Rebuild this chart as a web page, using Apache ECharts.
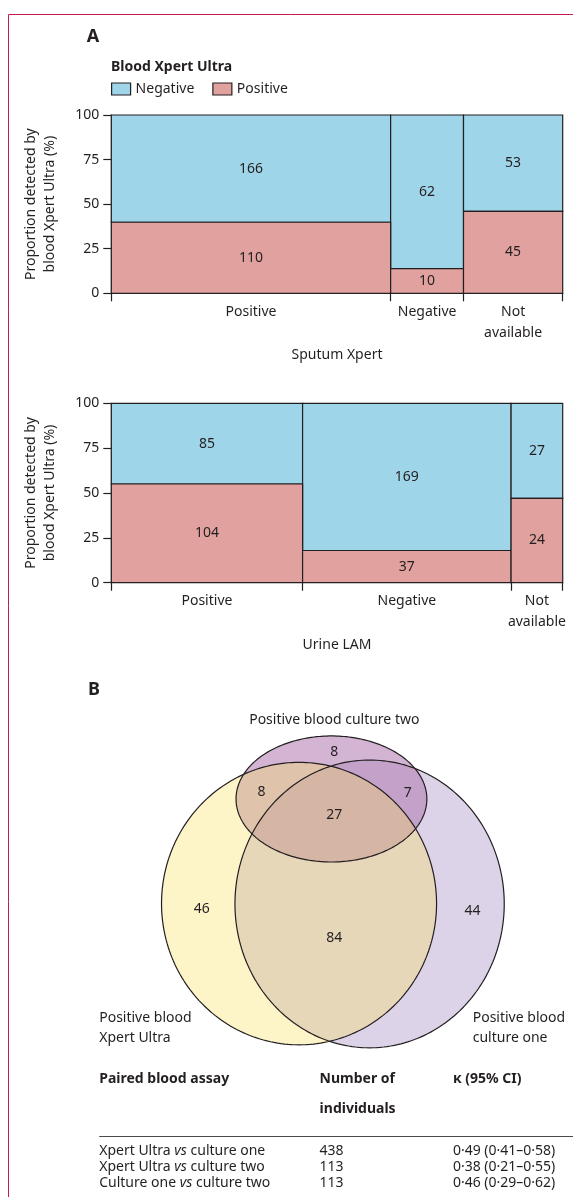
<!DOCTYPE html>
<html>
<head>
<meta charset="utf-8">
<script src="https://cdn.jsdelivr.net/npm/echarts@6/dist/echarts.min.js"></script>
<style>
html,body{margin:0;padding:0;background:#ffffff;}
#chart{width:573px;height:1197px;}
</style>
</head>
<body>
<div id="chart"></div>
<script>
// ---------------- DATA ----------------
const sputumCategories = ['Positive', 'Negative', 'Not available'];
const sputumPositive = [110, 10, 45];
const sputumNegative = [166, 62, 53];

const urineCategories = ['Positive', 'Negative', 'Not available'];
const urinePositive = [104, 37, 24];
const urineNegative = [85, 169, 27];

const legendNames = ['Negative', 'Positive'];

const vennSetNames = ['Positive blood\nXpert Ultra', 'Positive blood\nculture one', 'Positive blood culture two'];
const vennRegionNames = ['Culture two only', 'Xpert Ultra and culture two', 'Culture one and culture two', 'All three', 'Xpert Ultra only', 'Xpert Ultra and culture one', 'Culture one only'];
const vennRegionCounts = [8, 8, 7, 27, 46, 84, 44];

const tableHeaders = ['Paired blood assay', 'Number of\nindividuals', 'κ (95% CI)'];
const tableAssays = ['Xpert Ultra {i|vs} culture one', 'Xpert Ultra {i|vs} culture two', 'Culture one {i|vs} culture two'];
const tableN = [438, 113, 113];
const tableKappa = ['0·49 (0·41–0·58)', '0·38 (0·21–0·55)', '0·46 (0·29–0·62)'];

// ---------------- STYLE / LAYOUT ----------------
const FONT = '"Noto Sans", "DejaVu Sans", sans-serif';
const INK = '#231f20';
const BLUE = '#9fd5e8';
const PINK = '#e1a29f';

// Venn geometry in the venn grid's own units (x 0..100 left->right, y 0..100 top->bottom)
const vennShapes = [
  { set: 1, cx: 61.0, cy: 52.7, rx: 37.4, ry: 43.6, fill: '#dcd3e8' },
  { set: 2, cx: 50.4, cy: 20.9, rx: 26.5, ry: 19.1, fill: 'rgba(174,118,174,0.54)' },
  { set: 0, cx: 41.4, cy: 52.6, rx: 38.2, ry: 42.8, fill: 'rgba(249,223,93,0.34)' }
];
const vennLabelPos = [[51.2, 6.6], [31.0, 18.7], [71.6, 19.0], [51.2, 25.8], [14.4, 54.3], [51.2, 63.1], [89.6, 54.8]];

// ---------------- BUILD ----------------
function mosaic(cats, pos, neg) {
  const totals = cats.map((c, i) => pos[i] + neg[i]);
  const cum = [];
  let s = 0;
  totals.forEach(t => { cum.push(s); s += t; });
  const posRects = cats.map((c, i) => [cum[i], cum[i] + totals[i], 0, pos[i] / totals[i] * 100, pos[i]]);
  const negRects = cats.map((c, i) => [cum[i], cum[i] + totals[i], pos[i] / totals[i] * 100, 100, neg[i]]);
  const edges = cum.concat([s]);
  const mids = cats.map((c, i) => cum[i] + totals[i] / 2);
  return { total: s, posRects, negRects, edges, mids, cats };
}
const m1 = mosaic(sputumCategories, sputumPositive, sputumNegative);
const m2 = mosaic(urineCategories, urinePositive, urineNegative);

function catLabel(m, v) {
  let best = 0, bd = Infinity;
  m.mids.forEach((mv, i) => { const d = Math.abs(mv - v); if (d < bd) { bd = d; best = i; } });
  return m.cats[best].replace('Not available', 'Not\navailable');
}

function rectRenderer(color) {
  return function (params, api) {
    const p0 = api.coord([api.value(0), api.value(3)]);
    const p1 = api.coord([api.value(1), api.value(2)]);
    return {
      type: 'group',
      children: [
        { type: 'rect', shape: { x: p0[0], y: p0[1], width: p1[0] - p0[0], height: p1[1] - p0[1] },
          style: { fill: color, stroke: INK, lineWidth: 1.2 } },
        { type: 'text', x: (p0[0] + p1[0]) / 2, y: (p0[1] + p1[1]) / 2,
          style: { text: String(api.value(4)), fill: INK, fontSize: 14, fontFamily: FONT,
                   align: 'center', verticalAlign: 'middle', textAlign: 'center', textVerticalAlign: 'middle' } }
      ]
    };
  };
}

function xAxisFor(gi, m, name) {
  return {
    gridIndex: gi, type: 'value', min: 0, max: m.total,
    axisLine: { show: true, lineStyle: { color: INK, width: 1.2 } },
    axisTick: { show: true, customValues: m.edges, length: 8, lineStyle: { color: INK, width: 1.2 } },
    axisLabel: { customValues: m.mids, formatter: v => catLabel(m, v), fontSize: 14, fontFamily: FONT,
                 color: INK, margin: 8, lineHeight: 21 },
    splitLine: { show: false },
    name: name, nameLocation: 'middle', nameGap: 52,
    nameTextStyle: { fontSize: 14, fontFamily: FONT, color: INK, lineHeight: 20 }
  };
}
function yAxisFor(gi) {
  return {
    gridIndex: gi, type: 'value', min: 0, max: 100, interval: 25,
    axisLine: { show: true, lineStyle: { color: INK, width: 1.2 } },
    axisTick: { show: true, length: 8, lineStyle: { color: INK, width: 1.2 } },
    axisLabel: { fontSize: 14, fontFamily: FONT, color: INK, margin: 12 },
    splitLine: { show: false },
    name: 'Proportion detected by\nblood Xpert Ultra (%)', nameLocation: 'middle', nameRotate: 90, nameGap: 52.5,
    nameTextStyle: { fontSize: 14, fontFamily: FONT, color: INK, lineHeight: 18.5 }
  };
}

function ellipsePoints(c, rx, ry) {
  const pts = [];
  const N = 240;
  for (let k = 0; k < N; k++) {
    const a = k / N * Math.PI * 2;
    pts.push([c[0] + rx * Math.cos(a), c[1] + ry * Math.sin(a)]);
  }
  return pts;
}
function vennRenderer(mode) {
  return function (params, api) {
    const s = vennShapes[params.dataIndex];
    const c = api.coord([api.value(0), api.value(1)]);
    const e = api.coord([api.value(0) + api.value(2), api.value(1) + api.value(3)]);
    const pts = ellipsePoints(c, Math.abs(e[0] - c[0]), Math.abs(e[1] - c[1]));
    return {
      type: 'polygon', shape: { points: pts },
      style: mode === 'fill' ? { fill: s.fill, stroke: null } : { fill: null, stroke: INK, lineWidth: 1.2 }
    };
  };
}

const vennData = vennShapes.map(s => [s.cx, s.cy, s.rx, s.ry]);
const vennLabelData = vennRegionCounts.map((v, i) => [vennLabelPos[i][0], vennLabelPos[i][1], v]);

// ---------------- GRAPHIC TEXT ----------------
function txt(x, y, text, opts) {
  opts = opts || {};
  return {
    type: 'text', x: x, y: y, silent: true,
    style: Object.assign({
      text: text, fill: INK, fontSize: 14, fontFamily: FONT,
      align: 'left', verticalAlign: 'middle', textAlign: 'left', textVerticalAlign: 'middle'
    }, opts)
  };
}
const tableCols = [99.2, 319.6, 452.9];
const tableRowY = [1151, 1167, 1183];
const graphics = [
  { type: 'polyline', silent: true, shape: { points: [[573, 14.5], [8.5, 14.5], [8.5, 1197]] },
    style: { stroke: '#c8194d', lineWidth: 1, fill: null } },
  txt(86.7, 37, 'A', { fontSize: 18, fontWeight: 'bold' }),
  txt(111, 66.7, 'Blood Xpert Ultra', { fontSize: 14, fontWeight: 'bold' }),
  txt(88, 690, 'B', { fontSize: 18, fontWeight: 'bold' }),
  txt(334.3, 720, vennSetNames[2], { align: 'center', textAlign: 'center' }),
  txt(99.2, 1008.3, vennSetNames[0], { verticalAlign: 'top', textVerticalAlign: 'top', lineHeight: 20 }),
  txt(472.7, 1008.3, vennSetNames[1], { verticalAlign: 'top', textVerticalAlign: 'top', lineHeight: 20 }),
  txt(tableCols[0], 1079, tableHeaders[0], { fontSize: 14, fontWeight: 'bold' }),
  txt(tableCols[1], 1064, tableHeaders[1], { fontSize: 14, fontWeight: 'bold', verticalAlign: 'top', textVerticalAlign: 'top', lineHeight: 30 }),
  txt(tableCols[2], 1079, tableHeaders[2], { fontSize: 14, fontWeight: 'bold' }),
  { type: 'line', silent: true, shape: { x1: tableCols[0], y1: 1136.5, x2: 573, y2: 1136.5 },
    style: { stroke: '#4a4a4a', lineWidth: 1 } }
];
tableAssays.forEach((a, i) => {
  graphics.push(txt(tableCols[0], tableRowY[i], a, {
    rich: { i: { fontStyle: 'italic', fontSize: 14, fontFamily: FONT, fill: INK, color: INK } }
  }));
  graphics.push(txt(tableCols[1], tableRowY[i], String(tableN[i])));
  graphics.push(txt(tableCols[2], tableRowY[i], tableKappa[i]));
});

// ---------------- OPTION ----------------
const option = {
  backgroundColor: '#ffffff',
  animation: false,
  textStyle: { fontFamily: FONT, color: INK },
  legend: {
    data: legendNames, left: 111, top: 82, padding: 0,
    itemWidth: 19, itemHeight: 12, itemGap: 18, icon: 'rect',
    itemStyle: { borderColor: INK, borderWidth: 1.2 },
    textStyle: { fontSize: 14, fontFamily: FONT, color: INK },
    selectedMode: false
  },
  grid: [
    { left: 111.3, top: 115, width: 451.4, height: 178.3 },
    { left: 111.3, top: 403.3, width: 451.4, height: 179.4 },
    { left: 150, top: 730, width: 360, height: 330 }
  ],
  xAxis: [
    xAxisFor(0, m1, 'Sputum Xpert'),
    xAxisFor(1, m2, 'Urine LAM'),
    { gridIndex: 2, type: 'value', min: 0, max: 100, show: false }
  ],
  yAxis: [
    yAxisFor(0),
    yAxisFor(1),
    { gridIndex: 2, type: 'value', min: 0, max: 100, inverse: true, show: false }
  ],
  graphic: { elements: graphics },
  series: [
    { type: 'custom', name: 'Negative', xAxisIndex: 0, yAxisIndex: 0, itemStyle: { color: BLUE },
      renderItem: rectRenderer(BLUE), data: m1.negRects, clip: false },
    { type: 'custom', name: 'Positive', xAxisIndex: 0, yAxisIndex: 0, itemStyle: { color: PINK },
      renderItem: rectRenderer(PINK), data: m1.posRects, clip: false },
    { type: 'custom', name: 'Negative', xAxisIndex: 1, yAxisIndex: 1, itemStyle: { color: BLUE },
      renderItem: rectRenderer(BLUE), data: m2.negRects, clip: false },
    { type: 'custom', name: 'Positive', xAxisIndex: 1, yAxisIndex: 1, itemStyle: { color: PINK },
      renderItem: rectRenderer(PINK), data: m2.posRects, clip: false },
    { type: 'custom', name: 'vennFill', xAxisIndex: 2, yAxisIndex: 2, renderItem: vennRenderer('fill'),
      data: vennData, clip: false, z: 2 },
    { type: 'custom', name: 'vennLine', xAxisIndex: 2, yAxisIndex: 2, renderItem: vennRenderer('line'),
      data: vennData, clip: false, z: 3 },
    { type: 'custom', name: 'vennLabels', xAxisIndex: 2, yAxisIndex: 2, clip: false, z: 4,
      data: vennLabelData,
      renderItem: function (params, api) {
        const p = api.coord([api.value(0), api.value(1)]);
        return { type: 'text', x: p[0], y: p[1],
          style: { text: String(api.value(2)), fill: INK, fontSize: 14, fontFamily: FONT,
                   align: 'center', verticalAlign: 'middle', textAlign: 'center', textVerticalAlign: 'middle' } };
      } }
  ]
};

const chart = echarts.init(document.getElementById('chart'), null, { renderer: 'canvas', width: 573, height: 1197 });
chart.setOption(option);
</script>
</body>
</html>
